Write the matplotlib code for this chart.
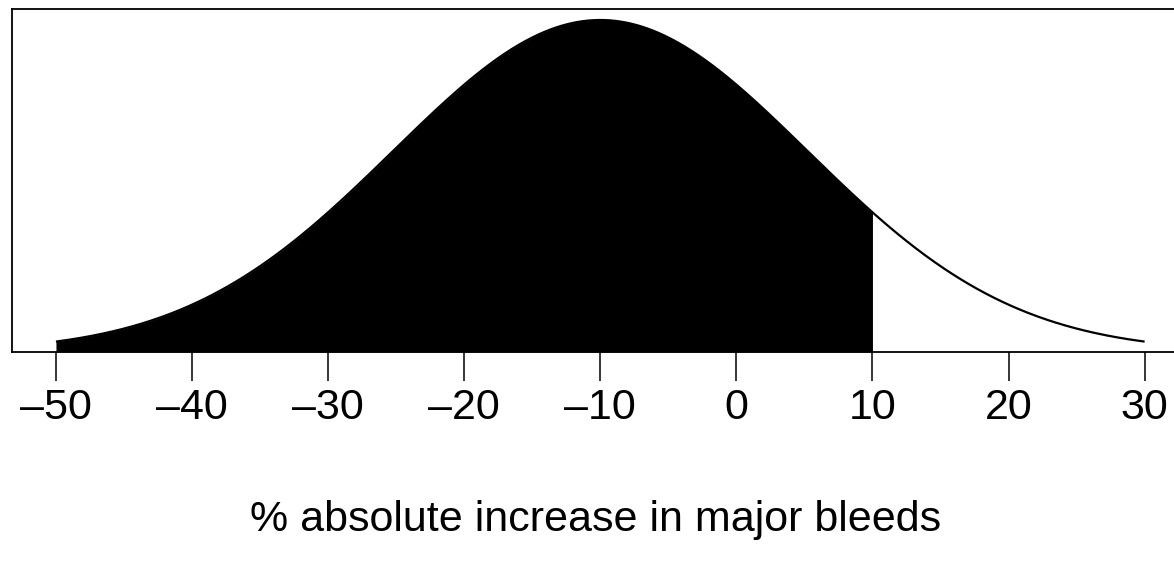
import numpy as np
from matplotlib import pyplot as plt

plt.rcParams['font.family'] = ['Liberation Sans', 'DejaVu Sans']

# normal curve for the absolute change, shaded up to the cut point
mean_change = -10.0
sd_change = 15.2
x_from, x_to = -50, 30
shade_to = 10
tick_values = [-50, -40, -30, -20, -10, 0, 10, 20, 30]
x_label = "% absolute increase in major bleeds"

x = np.linspace(x_from, x_to, 801)
dens = np.exp(-0.5 * ((x - mean_change) / sd_change) ** 2) / (sd_change * np.sqrt(2 * np.pi))
peak = dens.max()

fig = plt.figure(figsize=(11.74, 5.71), dpi=100)
ax = fig.add_axes([12 / 1174, 219 / 571, 1168 / 1174, 343.5 / 571])

ax.plot(x, dens, color="black", lw=1.6, solid_capstyle="butt")
mask = x <= shade_to
ax.fill_between(x[mask], 0, dens[mask], color="black", lw=0)

ax.set_xlim(-53.23, 32.6)
ax.set_ylim(0, peak * 343.5 / 332)

ax.set_yticks([])
ax.set_xticks(tick_values)
# R-style labels with an en dash for negatives
ax.set_xticklabels([str(v).replace("-", "\u2013") for v in tick_values])
ax.tick_params(axis="x", direction="out", length=21, width=1.1, pad=5, labelsize=31)
for s in ax.spines.values():
    s.set_linewidth(1.3)
ax.set_xlabel(x_label, fontsize=31, labelpad=52)

fig.savefig("out.png", dpi=100)
